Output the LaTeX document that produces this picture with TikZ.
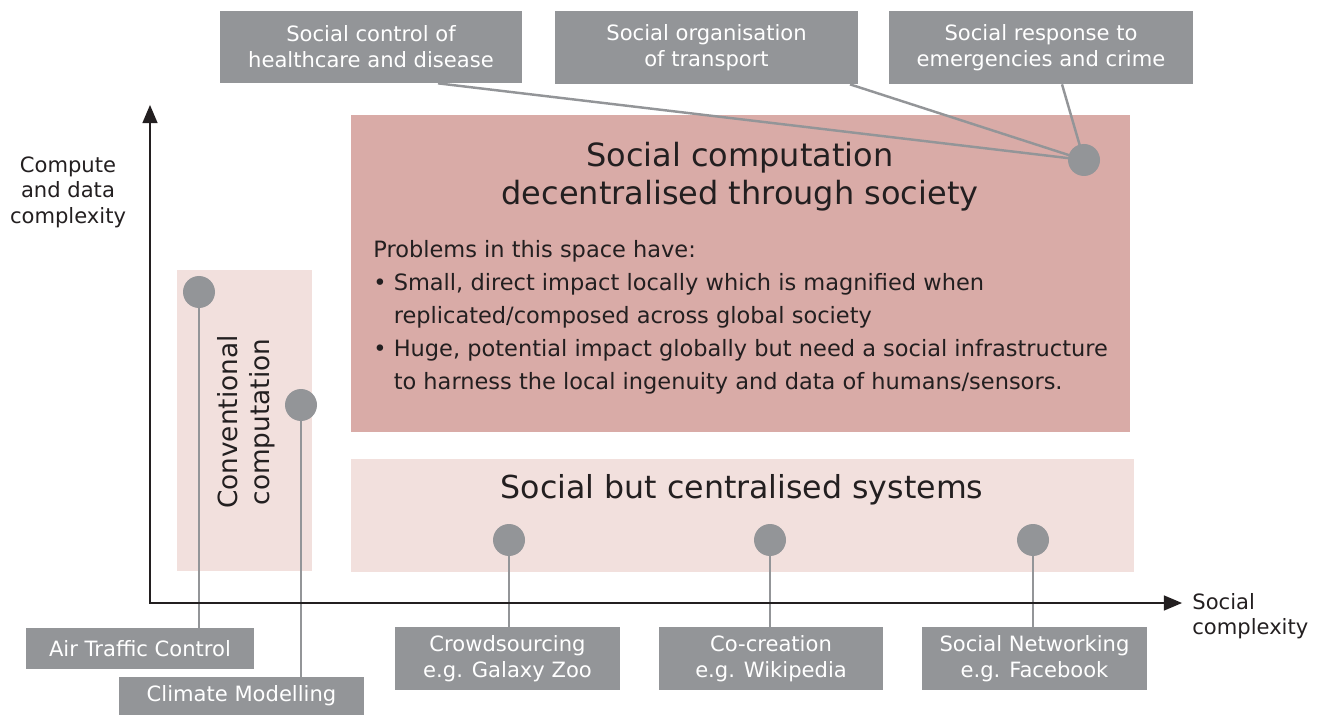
\documentclass[tikz,border=0pt]{standalone}
\usepackage{fontspec}
\setmainfont{DejaVu Sans}
\usepackage{tikz}
\usetikzlibrary{shapes.geometric, arrows, positioning}
\definecolor{boxgray}{RGB}{147,149,152}
\definecolor{darkrose}{RGB}{217,171,167}
\definecolor{lightrose}{RGB}{242,224,221}
\definecolor{ink}{RGB}{35,31,32}
\tikzstyle{tag} = [rectangle, fill=boxgray, text=white, align=center, inner sep=0pt, font=\fontsize{12}{14.8}\selectfont]
\tikzstyle{zone} = [rectangle, inner sep=0pt]
\tikzstyle{dot} = [circle, fill=boxgray, minimum size=0.64cm, inner sep=0pt]
\tikzstyle{link} = [draw=boxgray, line width=1.4pt]
\tikzstyle{axis} = [line width=1.4pt, draw=ink, <->, >=triangle 45]
\tikzstyle{caption} = [text=ink, align=center, inner sep=0pt]

\begin{document}
\begin{tikzpicture}[x=0.02cm, y=-0.02cm]
		\useasboundingbox (0,0) rectangle (1324,715);
		
		% Zones
		\node (decentral) [zone, fill=darkrose, minimum width=15.58cm, minimum height=6.34cm] at (740.5,273.5) {};
		\node (central) [zone, fill=lightrose, minimum width=15.66cm, minimum height=2.26cm] at (742.5,515.5) {};
		\node (conv) [zone, fill=lightrose, minimum width=2.7cm, minimum height=6.02cm] at (244.5,420.5) {};
		
		% Zone texts
		\node (decentraltitle) [caption, font=\fontsize{18.2}{21.6}\selectfont] at (740,177) {Social computation\\decentralised through society};
		\node (problems) [caption, align=left, anchor=north west, font=\fontsize{12.8}{18.8}\selectfont] at (373,240) {Problems in this space have:\\
			• Small, direct impact locally which is magnified when\\
			\phantom{• }replicated/composed across global society\\
			• Huge, potential impact globally but need a social infrastructure\\
			\phantom{• }to harness the local ingenuity and data of humans/sensors.};
		\node (centraltitle) [caption, font=\fontsize{18}{21}\selectfont] at (742,490) {Social but centralised systems};
		\node (convtitle) [caption, rotate=90, font=\fontsize{15}{18}\selectfont] at (246,422) {Conventional\\computation};
		
		% Axis labels
		\node (ylabel) [caption, font=\fontsize{12}{14.5}\selectfont] at (68,192) {Compute\\and data\\complexity};
		\node (xlabel) [caption, align=left, anchor=west, font=\fontsize{12}{14.5}\selectfont] at (1192,616) {Social\\complexity};
		
		% Examples
		\node (health) [tag, minimum width=6.04cm, minimum height=1.44cm] at (371,47) {Social control of\\healthcare and disease};
		\node (transport) [tag, minimum width=6.06cm, minimum height=1.46cm] at (706.5,47.5) {Social organisation\\of transport};
		\node (emergency) [tag, minimum width=6.08cm, minimum height=1.46cm] at (1041,47.5) {Social response to\\emergencies and crime};
		\node (atc) [tag, minimum width=4.56cm, minimum height=0.82cm] at (140,648.5) {Air Traffic Control};
		\node (climate) [tag, minimum width=4.9cm, minimum height=0.76cm] at (241.5,696) {Climate Modelling};
		\node (crowd) [tag, minimum width=4.5cm, minimum height=1.26cm] at (507.5,658.5) {Crowdsourcing\\e.g. Galaxy Zoo};
		\node (cocreate) [tag, minimum width=4.48cm, minimum height=1.26cm] at (771,658.5) {Co-creation\\e.g. Wikipedia};
		\node (network) [tag, minimum width=4.5cm, minimum height=1.26cm] at (1034.5,658.5) {Social Networking\\e.g. Facebook};
		
		% Dots
		\coordinate (dotsocietypos) at (1084,160);
		\node (dotatc) [dot] at (199,292) {};
		\node (dotclimate) [dot] at (301,405) {};
		\node (dotcrowd) [dot] at (509,540) {};
		\node (dotcocreate) [dot] at (770,540) {};
		\node (dotnetwork) [dot] at (1033,540) {};
		
		% Links
		\draw [link] ([xshift=1.34cm]health.south) -- (dotsocietypos);
		\draw [link] ([xshift=2.87cm]transport.south) -- (dotsocietypos);
		\draw [link] ([xshift=0.42cm]emergency.south) -- (dotsocietypos);
		\draw [link] (dotatc.center) -- (dotatc |- atc.north);
		\draw [link] (dotclimate.center) -- (dotclimate |- climate.north);
		\draw [link] (dotcrowd.center) -- (dotcrowd |- crowd.north);
		\draw [link] (dotcocreate.center) -- (dotcocreate |- cocreate.north);
		\draw [link] (dotnetwork.center) -- (dotnetwork |- network.north);
		\node (dotsociety) [dot] at (dotsocietypos) {};
		
		% Axes
		\coordinate (origin) at (150,603);
		\coordinate (ytop) at (150,105);
		\coordinate (xend) at (1182,603);
		\draw [axis] (ytop) -- (origin) -- (xend);
		
	\end{tikzpicture}
\end{document}
